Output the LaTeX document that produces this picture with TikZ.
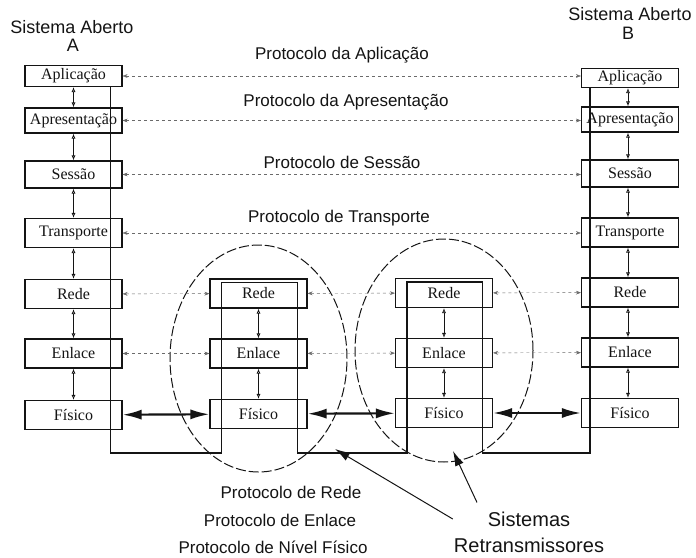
\documentclass[tikz,border=0pt]{standalone}
\usepackage{fontspec}
\setmainfont{Liberation Serif}
\newfontfamily\labelsans{Liberation Sans}
\usetikzlibrary{arrows.meta,shapes.geometric}
\definecolor{ink}{HTML}{141414}
\definecolor{peerline}{HTML}{6A6A6A}

\begin{document}
\begin{tikzpicture}[
  x=1pt,
  y=-1pt,
  text=ink,
  layer/.style={
    draw=ink,
    line width=1.1pt,
    fill=white,
    minimum width=97pt,
    minimum height=29pt,
    inner sep=1pt,
    font=\fontsize{16}{18}\selectfont
  },
  relayzone/.style={
    ellipse,
    draw=ink,
    line width=1pt,
    dash pattern=on 10pt off 3pt,
    minimum width=177pt,
    minimum height=227pt
  },
  title/.style={font=\labelsans\fontsize{18}{20}\selectfont, inner sep=1pt},
  protocol/.style={font=\labelsans\fontsize{17}{19}\selectfont},
  relaytext/.style={font=\labelsans\fontsize{20}{26}\selectfont, align=center, inner sep=1pt},
  peer/.style={{Stealth[length=5pt]}-{Stealth[length=5pt]}, thin, dashed, draw=peerline},
  stackarrow/.style={{Latex[open,length=5pt,width=4pt]}-{Latex[open,length=5pt,width=4pt]}, line width=0.8pt, draw=ink},
  wire/.style={{Latex[length=19pt,width=10pt]}-{Latex[length=19pt,width=10pt]}, line width=2.2pt, draw=ink},
  datapath/.style={line width=1.1pt, draw=ink},
  pointer/.style={-{Latex[length=15pt,width=9pt]}, line width=1pt, draw=ink}
]
\useasboundingbox (0,0) rectangle (696,557);

% Relay zones
\node[relayzone] (relayone) at (258.5,358.5) {};
\node[relayzone, minimum width=178pt, minimum height=223pt] (relaytwo) at (444,350.5) {};

% Open system A
\node[title] (titleA) at (72,27) {Sistema Aberto};
\node[title] (letterA) at (73,45) {A};
\node[layer, minimum height=21pt] (aplA) at (73.5,76) {Aplicação};
\node[layer, minimum height=25pt] (apresA) at (73.5,120.5) {Apresentação};
\node[layer, minimum height=27pt] (sessA) at (73.5,174.5) {Sessão};
\node[layer] (transpA) at (73.5,233) {Transporte};
\node[layer] (redeA) at (73.5,294) {Rede};
\node[layer] (enlaceA) at (73.5,353.5) {Enlace};
\node[layer] (fisicoA) at (73.5,415) {Físico};

% Relay systems
\node[layer] (redeR1) at (258.5,293.5) {Rede};
\node[layer] (enlaceR1) at (258.5,353.5) {Enlace};
\node[layer] (fisicoR1) at (258.5,414) {Físico};
\node[layer] (redeR2) at (444,293) {Rede};
\node[layer] (enlaceR2) at (444,353) {Enlace};
\node[layer] (fisicoR2) at (444,413) {Físico};

% Open system B
\node[title] (titleB) at (630,14) {Sistema Aberto};
\node[title] (letterB) at (628,33) {B};
\node[layer, minimum height=19pt] (aplB) at (630,78) {Aplicação};
\node[layer, minimum height=25pt] (apresB) at (630,119.5) {Apresentação};
\node[layer, minimum height=27pt] (sessB) at (630,173.5) {Sessão};
\node[layer] (transpB) at (630,232.5) {Transporte};
\node[layer] (redeB) at (630,292.5) {Rede};
\node[layer] (enlaceB) at (630,352.5) {Enlace};
\node[layer] (fisicoB) at (630,413) {Físico};

% Data path through the stacks
\coordinate (floor) at (0,453);
\coordinate (pathA) at ([xshift=-12pt]aplA.south east);
\coordinate (pathB) at ([xshift=9pt]aplB.south west);
\coordinate (upRone) at ([xshift=12pt,yshift=-4pt]redeR1.north west);
\coordinate (downRone) at ([xshift=-10pt,yshift=-4pt]redeR1.north east);
\coordinate (upRtwo) at ([xshift=12pt,yshift=-4pt]redeR2.north west);
\coordinate (downRtwo) at ([xshift=-11pt,yshift=-4pt]redeR2.north east);
\draw[datapath] (pathA) -- (pathA |- floor) -| (upRone) -| (downRone |- floor) -| (upRtwo) -| (downRtwo |- floor) -| (pathB);

% Layer to layer inside each system
\draw[stackarrow] (aplA) -- (apresA);
\draw[stackarrow] (apresA) -- (sessA);
\draw[stackarrow] (sessA) -- (transpA);
\draw[stackarrow] (transpA) -- (redeA);
\draw[stackarrow] (redeA) -- (enlaceA);
\draw[stackarrow] (enlaceA) -- (fisicoA);
\draw[stackarrow] (redeR1) -- (enlaceR1);
\draw[stackarrow] (enlaceR1) -- (fisicoR1);
\draw[stackarrow] (redeR2) -- (enlaceR2);
\draw[stackarrow] (enlaceR2) -- (fisicoR2);
\draw[stackarrow] ([xshift=-2pt]aplB.south) -- ([xshift=-2pt]apresB.north);
\draw[stackarrow] ([xshift=-2pt]apresB.south) -- ([xshift=-2pt]sessB.north);
\draw[stackarrow] ([xshift=-2pt]sessB.south) -- ([xshift=-2pt]transpB.north);
\draw[stackarrow] ([xshift=-2pt]transpB.south) -- ([xshift=-2pt]redeB.north);
\draw[stackarrow] ([xshift=-2pt]redeB.south) -- ([xshift=-2pt]enlaceB.north);
\draw[stackarrow] ([xshift=-2pt]enlaceB.south) -- ([xshift=-2pt]fisicoB.north);

% Peer protocols
\draw[peer] (aplA.east) -- (aplA.east -| aplB.west);
\draw[peer] (apresA.east) -- (apresA.east -| apresB.west);
\draw[peer] (sessA.east) -- (sessA.east -| sessB.west);
\draw[peer] (transpA.east) -- (transpA.east -| transpB.west);
\draw[peer] (redeA) -- (redeR1);
\draw[peer] (redeR1) -- (redeR2);
\draw[peer] (redeR2) -- (redeB);
\draw[peer] (enlaceA) -- (enlaceR1);
\draw[peer] (enlaceR1) -- (enlaceR2);
\draw[peer] (enlaceR2) -- (enlaceB);
\draw[wire] (fisicoA) -- (fisicoR1);
\draw[wire] (fisicoR1) -- (fisicoR2);
\draw[wire] (fisicoR2) -- (fisicoB);

\node[protocol] (protoapl) at (342,55) {Protocolo da Aplicação};
\node[protocol] (protoapres) at (346,102) {Protocolo da Apresentação};
\node[protocol] (protosess) at (342,162) {Protocolo de Sessão};
\node[protocol] (prototransp) at (339,218) {Protocolo de Transporte};

% Lower protocols and relay caption
\node[protocol] (protorede) at (291,492) {Protocolo de Rede};
\node[protocol] (protoenlace) at (280,520) {Protocolo de Enlace};
\node[protocol] (protofisico) at (273,547) {Protocolo de Nível Físico};
\node[relaytext] (relaylabel) at (529,532) {Sistemas\\Retransmissores};

\coordinate (tipone) at (335,449);
\coordinate (tiptwo) at (453,451);
\draw[pointer] ([yshift=13pt]relaylabel.west) -- (tipone);
\draw[pointer] ([xshift=-52pt,yshift=8pt]relaylabel.north) -- (tiptwo);

\end{tikzpicture}
\end{document}
